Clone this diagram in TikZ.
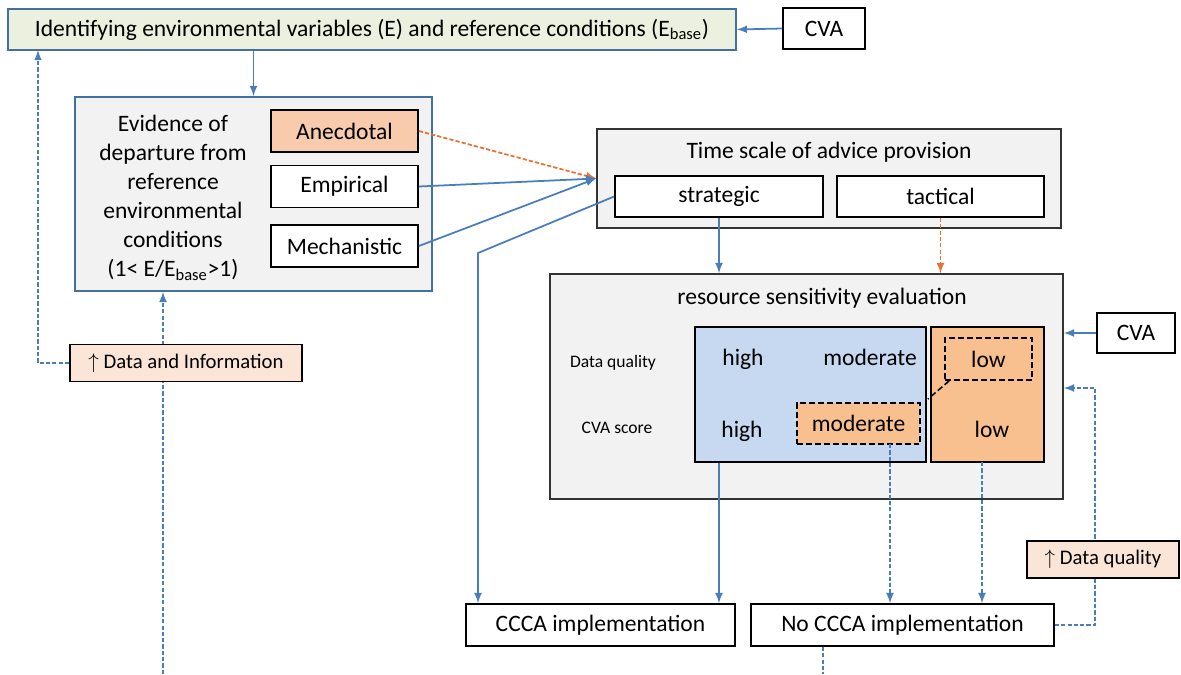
\documentclass[tikz,border=0pt]{standalone}
\usepackage{fontspec}
\setmainfont{Carlito}
\definecolor{linkblue}{HTML}{4A7EBB}
\definecolor{frameblue}{HTML}{41719C}
\definecolor{linkorange}{HTML}{E97132}
\definecolor{boxgreen}{HTML}{EBF1DE}
\definecolor{boxgrey}{HTML}{F2F2F2}
\definecolor{peach}{HTML}{F8CBAD}
\definecolor{lightpeach}{HTML}{FBE5D6}
\definecolor{sensblue}{HTML}{C6D9F1}
\definecolor{sensorange}{HTML}{F9C08F}
\begin{document}
\begin{tikzpicture}[x=0.02cm,y=-0.02cm,
    box/.style={draw,line width=1pt,inner sep=0,align=center,font=\fontsize{13.4}{16.5}\selectfont},
    lbl/.style={anchor=base,inner sep=0,font=\fontsize{13.4}{16.5}\selectfont},
    small/.style={anchor=base,inner sep=0,font=\fontsize{10}{12}\selectfont},
    link/.style={draw=linkblue,line width=1pt,-latex},
    dlink/.style={link,dash pattern=on 2.4pt off 1.2pt},
    olink/.style={draw=linkorange,line width=1pt,-latex,dash pattern=on 2.4pt off 1.2pt},
    dbox/.style={box,dash pattern=on 3.4pt off 1.7pt}]
\useasboundingbox (0,0) rectangle (1181,674);

%top row
\node[box,fill=boxgreen,draw=frameblue,minimum width=14.56cm,minimum height=0.82cm] (top) at (372,29.5)
    {Identifying environmental variables (E) and reference conditions (E\textsubscript{base})};
\node[box,minimum width=1.64cm,minimum height=0.82cm] (cvatop) at (824,28.5){CVA};

%evidence
\node[box,fill=boxgrey,draw=frameblue,minimum width=7.14cm,minimum height=3.88cm] (evid) at (253.5,194){};
\node[lbl,anchor=center,align=center] (evtext) at (173,198)
    {Evidence of\\departure from\\reference\\environmental\\conditions\\(1< E/E\textsubscript{base}>1)};
\foreach \n/\t/\y in {anec/Anecdotal/131, emp/Empirical/186.5, mech/Mechanistic/246}{
    \node[box,fill=white,minimum width=2.94cm,minimum height=0.84cm] (\n) at (344.5,\y){\t};
}
\path (anec) node[box,fill=peach,minimum width=2.94cm,minimum height=0.84cm]{Anecdotal};

%time scale
\node[box,fill=boxgrey,draw=black!80,minimum width=9.28cm,minimum height=1.98cm] (time) at (829,178.5){};
\node[lbl] (timetitle) at (829,158){Time scale of advice provision};
\node[box,fill=white,minimum width=4.16cm,minimum height=0.82cm] (strat) at (719,196.5){strategic};
\node[box,fill=white,minimum width=4.14cm,minimum height=0.82cm] (tact) at (940.5,196.5){tactical};

%sensitivity
\node[box,fill=boxgrey,draw=black!80,minimum width=10.26cm,minimum height=4.5cm] (res) at (806.5,386.5){};
\node[lbl] (restitle) at (822,304){resource sensitivity evaluation};
\node[box,fill=sensblue,minimum width=4.62cm,minimum height=2.7cm] (blue) at (810.5,394.5){};
\node[box,fill=sensorange,minimum width=2.26cm,minimum height=2.7cm] (orng) at (987.5,394.5){};
\node[dbox,minimum width=1.74cm,minimum height=0.84cm] (lowbox) at (988.5,359){low};
\node[dbox,fill=sensorange,minimum width=2.46cm,minimum height=0.82cm] (modbox) at (858.5,423.5){moderate};
\foreach \n/\t/\x/\y in {hiq/high/743/365, modq/moderate/870/365, hic/high/742/437, lowc/low/992/437}{
    \node[lbl] (\n) at (\x,\y){\t};
}
\node[small] (dqlabel) at (613,367){Data quality};
\node[small] (cvalabel) at (617,433){CVA score};
\node[box,minimum width=1.56cm,minimum height=0.8cm] (cvares) at (1136,333){CVA};

%outcomes
\node[box,minimum width=5.38cm,minimum height=0.84cm] (ccca) at (600.5,625){CCCA implementation};
\node[box,minimum width=6.06cm,minimum height=0.84cm] (noccca) at (902.5,625){No CCCA implementation};

%links
\coordinate (dileft) at (38,50);
\coordinate (inbot) at (163,674);
\coordinate (bend) at (478,253);
\coordinate (modout) at (890,444);
\coordinate (lowout) at (982,462);
\coordinate (dqup) at (1095,388);
\coordinate (nobot) at (823,674);
\path[link] (cvatop.west) -- (top.east);
\path[link] (evid.north |- top.south) -- (evid.north);
\path[dlink] (inbot) -- (inbot |- evid.south);
\path[olink] (anec.east) -- (time.west);
\path[link] (emp.east) -- (time.west);
\path[link] (mech.east) -- (time.west);
\path[link] (strat.west) -- (bend) -- (bend |- ccca.north);
\path[link] (strat.south) -- (strat.south |- res.north);
\path[olink] (tact.south) -- (tact.south |- res.north);
\path[link] (cvares.west) -- (cvares.west -| res.east);
\path[link] (strat.south |- blue.south) -- (strat.south |- ccca.north);
\path[dlink] (modout) -- (modout |- noccca.north);
\path[dlink] (lowout) -- (lowout |- noccca.north);
\path[draw,line width=0.9pt,dash pattern=on 3.4pt off 1.7pt] ([xshift=0.1cm]lowbox.south west) -- ([xshift=0.14cm,yshift=0.06cm]modbox.north east);
\path[dlink] (noccca.east) -| (dqup) -- (dqup -| res.east);
\path[draw=linkblue,line width=1pt,dash pattern=on 2.4pt off 1.2pt] (nobot |- noccca.south) -- (nobot);

%feedback boxes
\node[box,fill=lightpeach,font=\fontsize{11.8}{14}\selectfont,minimum width=4.64cm,minimum height=0.74cm] (datainfo) at (186,363){$\uparrow$ Data and Information};
\path[dlink] (datainfo.west) -| (dileft);
\node[box,fill=lightpeach,font=\fontsize{11.8}{14}\selectfont,minimum width=3.04cm,minimum height=0.74cm] (dataq) at (1103,559.5){$\uparrow$ Data quality};

\end{tikzpicture}
\end{document}
